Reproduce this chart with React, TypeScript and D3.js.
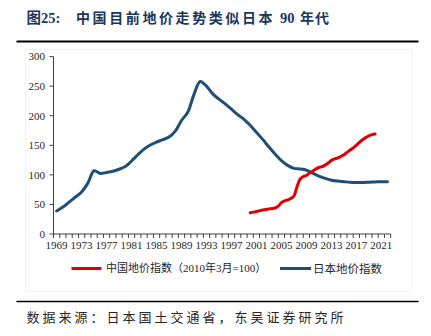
import React from "react";
import * as d3 from "d3";

const titlePrefix = "图25:";
const titleMain = "中国目前地价走势类似日本";
const titleNum = "90";
const titleEnd = "年代";
const sourceText = "数据来源：日本国土交通省，东吴证券研究所";
const legendChina = "中国地价指数（2010年3月=100）";
const legendJapan = "日本地价指数";

const yTicks = [0, 50, 100, 150, 200, 250, 300];
const xLabelYears = [1969, 1973, 1977, 1981, 1985, 1989, 1993, 1997, 2001, 2005, 2009, 2013, 2017, 2021];

const japanYears = [
  1969, 1970, 1971, 1972, 1973, 1974, 1975, 1976, 1977, 1978, 1979, 1980, 1981, 1982, 1983, 1984, 1985, 1986,
  1987, 1988, 1989, 1990, 1991, 1992, 1993, 1994, 1995, 1996, 1997, 1998, 1999, 2000, 2001, 2002, 2003, 2004,
  2005, 2006, 2007, 2008, 2009, 2010, 2011, 2012, 2013, 2014, 2015, 2016, 2017, 2018, 2019, 2020, 2021, 2022,
];
const japanValues = [
  39, 45.5, 54, 62.5, 71, 86, 107, 102.5, 104, 106, 109.5, 114, 123.5, 134, 143.5, 150.5, 155.5, 159.5,
  164, 174, 192, 206, 236, 258, 250, 237, 228, 220, 211, 202, 194, 184, 172, 160, 147, 135,
  124, 116, 111, 110, 108, 103, 98, 94, 91, 89.5, 88.5, 87.5, 87, 87, 87.5, 88, 88.5, 88.5,
];

// China: half-year observations (decimal year)
const chinaDates = [
  2000.5, 2001.0, 2001.5, 2002.0, 2002.5, 2003.0, 2003.5, 2004.0, 2004.5, 2005.0, 2005.5, 2006.0, 2006.5,
  2007.0, 2007.5, 2008.0, 2008.5, 2009.0, 2009.5, 2010.0, 2010.5, 2011.0, 2011.5, 2012.0, 2012.5, 2013.0,
  2013.5, 2014.0, 2014.5, 2015.0, 2015.5, 2016.0, 2016.5, 2017.0, 2017.5, 2018.0, 2018.5, 2019.0, 2019.5,
  2020.0, 2020.5,
];
const chinaValues = [
  36, 37, 38, 39.5, 40.5, 41.5, 42.5, 43, 44, 47, 53, 56, 57.5,
  60, 64, 80, 93, 97, 99, 103, 106, 110, 112.5, 114, 116.5, 120,
  124.5, 127, 128.5, 131, 134, 138, 142, 145.5, 150, 155, 159.5, 163, 166,
  168, 169,
];

const W = 431;
const H = 336;
const plotLeft = 53.5;
const plotRight = 390.7;
const plotTop = 56.6;
const plotBottom = 234;

const serifCJK = "'Liberation Serif', 'Times New Roman', 'Noto Sans CJK SC', serif";

export default function App() {
  const x = d3.scaleLinear().domain([1969, 2023]).range([plotLeft, plotRight]);
  const y = d3.scaleLinear().domain([0, 300]).range([plotBottom, plotTop]);

  const line = d3
    .line<[number, number]>()
    .x((d) => x(d[0]))
    .y((d) => y(d[1]))
    .curve(d3.curveCatmullRom.alpha(0.5));

  const japanPts: [number, number][] = japanYears.map((yr, i) => [yr + 0.5, japanValues[i]]);
  const chinaPts: [number, number][] = chinaDates.map((t, i) => [t, chinaValues[i]]);

  const tickYears = d3.range(1969, 2024);
  const axisColor = "#404040";
  const blue = "#1F4E79";
  const red = "#E00000";

  return (
    <svg
      width={W}
      height={H}
      style={{ position: "absolute", left: 0, top: 0, background: "#fff" }}
    >
      {/* title */}
      <text y={22.5} fontFamily={serifCJK} fontWeight="bold" fill="#1B365D">
        <tspan x={26.5} fontSize={14.5}>{titlePrefix}</tspan>
        <tspan x={76} fontSize={14} style={{ letterSpacing: "2.6px" }}>{titleMain}</tspan>
        <tspan x={280} fontSize={14.5}>{titleNum}</tspan>
        <tspan x={300} fontSize={14} style={{ letterSpacing: "1px" }}>{titleEnd}</tspan>
      </text>
      <line x1={16.5} x2={418.5} y1={41.5} y2={41.5} stroke="#000" strokeWidth={1.8} />

      {/* faint chart border */}
      <rect x={25.5} y={49.5} width={386} height={242} fill="none" stroke="#f2f2f2" strokeWidth={1} />

      {/* y axis */}
      <line x1={plotLeft} x2={plotLeft} y1={plotTop} y2={plotBottom} stroke={axisColor} strokeWidth={1} />
      {yTicks.map((t) => (
        <g key={t}>
          <line x1={plotLeft - 4} x2={plotLeft} y1={y(t)} y2={y(t)} stroke={axisColor} strokeWidth={1} />
          <text
            x={45}
            y={y(t)}
            dy="0.35em"
            textAnchor="end"
            fontFamily={serifCJK}
            fontSize={11}
            fill="#262626"
          >
            {t}
          </text>
        </g>
      ))}

      {/* x axis */}
      <line x1={plotLeft} x2={plotRight} y1={plotBottom} y2={plotBottom} stroke={axisColor} strokeWidth={1} />
      {tickYears.map((t) => (
        <line key={t} x1={x(t)} x2={x(t)} y1={plotBottom} y2={plotBottom + 4} stroke={axisColor} strokeWidth={1} />
      ))}
      {xLabelYears.map((t) => (
        <text
          key={t}
          x={x(t + 0.5)}
          y={249}
          textAnchor="middle"
          fontFamily={serifCJK}
          fontSize={11}
          fill="#262626"
        >
          {t}
        </text>
      ))}

      {/* series */}
      <path d={line(japanPts) || ""} fill="none" stroke={blue} strokeWidth={3} strokeLinejoin="round" strokeLinecap="round" />
      <path d={line(chinaPts) || ""} fill="none" stroke={red} strokeWidth={3} strokeLinejoin="round" strokeLinecap="round" />

      {/* legend */}
      <line x1={71.5} x2={101.5} y1={268.5} y2={268.5} stroke={red} strokeWidth={3} />
      <text x={106} y={268.5} dy="0.35em" fontFamily={serifCJK} fontSize={11} fill="#262626">
        {legendChina}
      </text>
      <line x1={280} x2={311} y1={268.5} y2={268.5} stroke={blue} strokeWidth={3} />
      <text x={313} y={268.5} dy="0.35em" fontFamily={serifCJK} fontSize={11.5} fill="#262626">
        {legendJapan}
      </text>

      {/* source */}
      <line x1={16.5} x2={418.5} y1={301.5} y2={301.5} stroke="#000" strokeWidth={1.5} />
      <text
        x={26.5}
        y={317.5}
        dy="0.35em"
        fontFamily={serifCJK}
        fontSize={13}
        fill="#262626"
        style={{ letterSpacing: "3px" }}
      >
        {sourceText}
      </text>
    </svg>
  );
}
